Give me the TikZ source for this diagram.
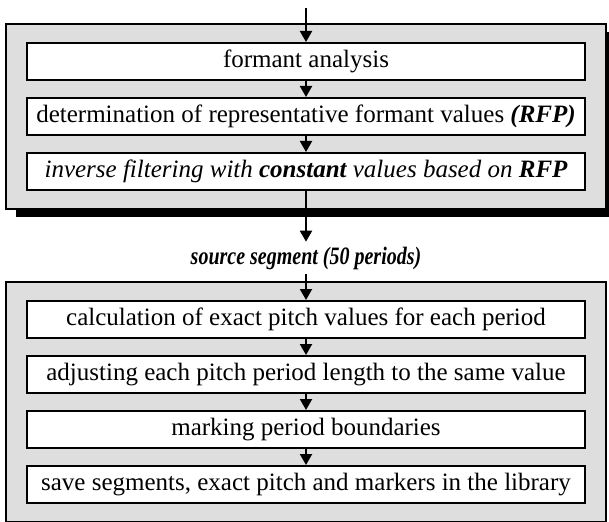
\documentclass[tikz,border=0pt]{standalone}
\usepackage{fontspec}
\setmainfont{Liberation Serif}
\usepackage{tikz}
\usetikzlibrary{arrows.meta,fit,shadows,backgrounds,positioning}

\begin{document}
\begin{tikzpicture}[auto, node distance=55pt, x=1pt, y=1pt,
    >={Triangle[width=12pt,length=11pt]}, line width=2pt]
\tikzstyle{block} = [draw, fill=white, rectangle, line width=2pt,
    minimum height=37pt, minimum width=558pt, inner sep=0pt,
    font=\fontsize{25}{28}\selectfont]
\tikzstyle{frame} = [draw, fill=black!13, rectangle, line width=1.6pt,
    inner xsep=20pt, inner ysep=18pt]
\tikzstyle{input} = [coordinate]
\tikzstyle{label} = [font=\fontsize{25}{28}\selectfont\bfseries\itshape,
    inner sep=4pt]
    \useasboundingbox (0,0) rectangle (609,-521);
    % We start by placing the blocks of the first stage
    \coordinate (input) at (306,-8);
    \node [block] (formant) at (306,-61.5) {formant analysis};
    \node [block, below of=formant] (rfp)
        {determination of representative formant values \textbf{\textit{(RFP)}}};
    \node [block, below of=rfp] (inverse)
        {\itshape inverse filtering with \textbf{constant} values based on \textbf{RFP}};
    \node [label] (source) at (306,-258)
        {\scalebox{0.8}[1]{source segment (50 periods)}};
    % then the blocks of the second stage
    \node [block] (pitch) at (306,-319.5)
        {calculation of exact pitch values for each period};
    \node [block, below of=pitch] (adjust)
        {adjusting each pitch period length to the same value};
    \node [block, below of=adjust] (marking) {marking period boundaries};
    \node [block, below of=marking] (save)
        {save segments, exact pitch and markers in the library};

    % The frames go behind the blocks
    \begin{scope}[on background layer]
    \node [frame, fit=(formant)(inverse),
        drop shadow={shadow xshift=10pt, shadow yshift=-8pt,
        fill=black, opacity=1}] (stage1) {};
    \node [frame, fit=(pitch)(save)] (stage2) {};
    \end{scope}

    % Once the nodes are placed, connecting them is easy.
    \draw [->] (input) -- (formant);
    \draw [->] (formant) -- (rfp);
    \draw [->] (rfp) -- (inverse);
    \draw [->] (inverse) -- (source);
    \draw [->] (source) -- (pitch);
    \draw [->] (pitch) -- (adjust);
    \draw [->] (adjust) -- (marking);
    \draw [->] (marking) -- (save);
\end{tikzpicture}
\end{document}
